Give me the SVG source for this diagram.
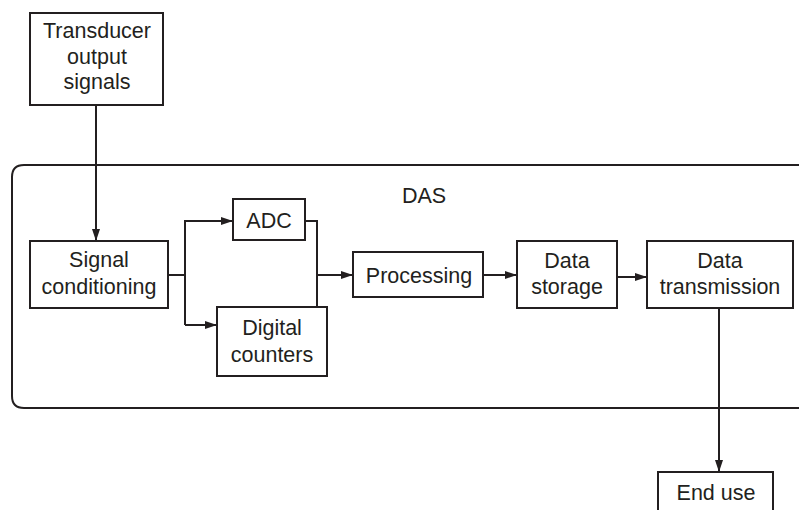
<svg xmlns="http://www.w3.org/2000/svg" width="799" height="510" viewBox="0 0 799 510">
<defs>
<style>
.box{fill:#fff;stroke:#231f20;stroke-width:2}
.ln{fill:none;stroke:#231f20;stroke-width:2}
.t{font-family:"Liberation Sans",Arial,sans-serif;font-size:21.5px;fill:#231f20;text-anchor:middle}
</style>
<marker id="ah" markerWidth="12" markerHeight="8" refX="12" refY="4" orient="auto" markerUnits="userSpaceOnUse">
<path d="M0,0 L12,4 L0,8 Z" fill="#231f20"/>
</marker>
</defs>
<rect width="799" height="510" fill="#fff"/>
<g id="das-frame">
<path class="ln" d="M820,165 H24 Q12,165 12,177 V396 Q12,408 24,408 H820"/>
<text class="t" x="424" y="203">DAS</text>
</g>
<g id="connectors">
<line class="ln" x1="96" y1="105" x2="96" y2="241" marker-end="url(#ah)"/>
<polyline class="ln" points="168,275 185,275"/>
<polyline class="ln" points="185,325 185,221 233,221" marker-end="url(#ah)"/>
<polyline class="ln" points="185,325 217,325" marker-end="url(#ah)"/>
<polyline class="ln" points="305,221 317,221 317,307"/>
<line class="ln" x1="317" y1="275" x2="353" y2="275" marker-end="url(#ah)"/>
<line class="ln" x1="483" y1="275" x2="517" y2="275" marker-end="url(#ah)"/>
<line class="ln" x1="617" y1="277" x2="647" y2="277" marker-end="url(#ah)"/>
<line class="ln" x1="719" y1="308" x2="719" y2="472" marker-end="url(#ah)"/>
</g>
<g id="transducer">
<rect class="box" x="30" y="13" width="133" height="92"/>
<text class="t" x="97" y="38">Transducer</text>
<text class="t" x="97" y="64">output</text>
<text class="t" x="97" y="89">signals</text>
</g>
<g id="signal-conditioning">
<rect class="box" x="30" y="241" width="138" height="67"/>
<text class="t" x="99" y="267">Signal</text>
<text class="t" x="99" y="294">conditioning</text>
</g>
<g id="adc">
<rect class="box" x="233" y="199" width="72" height="41"/>
<text class="t" x="269" y="228">ADC</text>
</g>
<g id="digital-counters">
<rect class="box" x="217" y="307" width="110" height="69"/>
<text class="t" x="272" y="335">Digital</text>
<text class="t" x="272" y="362">counters</text>
</g>
<g id="processing">
<rect class="box" x="353" y="252" width="130" height="45"/>
<text class="t" x="419" y="283">Processing</text>
</g>
<g id="data-storage">
<rect class="box" x="517" y="241" width="100" height="67"/>
<text class="t" x="567" y="268">Data</text>
<text class="t" x="567" y="294">storage</text>
</g>
<g id="data-transmission">
<rect class="box" x="647" y="241" width="146" height="67"/>
<text class="t" x="720" y="268">Data</text>
<text class="t" x="720" y="294">transmission</text>
</g>
<g id="end-use">
<rect class="box" x="658" y="472" width="115" height="45"/>
<text class="t" x="716" y="500">End use</text>
</g>
</svg>
